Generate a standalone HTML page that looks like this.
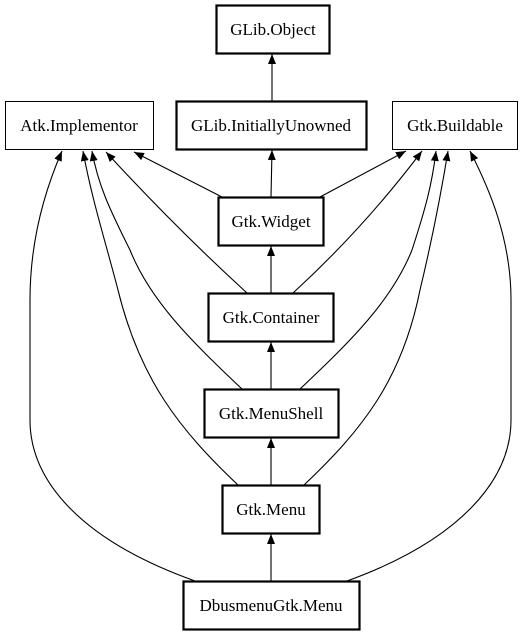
<!DOCTYPE html>
<html><head><style>
html,body{margin:0;padding:0;background:#fff;}
svg{display:block;}
text{font-family:"Liberation Serif",serif;font-size:17px;text-anchor:middle;}
</style></head><body>
<svg width="521" height="635" viewBox="0 0 521 635" xmlns="http://www.w3.org/2000/svg">
<defs>
<marker id="a" markerWidth="10" markerHeight="8" refX="10" refY="4" orient="auto" markerUnits="userSpaceOnUse">
<path d="M0,0 L10,4 L0,8 Z" fill="#000"/>
</marker>
</defs>
<g fill="none" stroke="#000" stroke-width="1.1" marker-end="url(#a)">
<path d="M272,101 L272,54"/>
<path d="M271,197 L272,150"/>
<path d="M271,293 L271,246"/>
<path d="M271,389 L271,342"/>
<path d="M271,485 L271,438"/>
<path d="M271,581 L271,534"/>
<path d="M222,197 L134,152"/>
<path d="M247,293 C200,250 150,200 106,152"/>
<path d="M242,389 C190,340 150,300 130,250 C110,210 98,185 92,151"/>
<path d="M238,485 C180,430 140,380 118,290 C105,240 92,200 83,151"/>
<path d="M195,581 C80,540 30,480 30,420 L30,300 C30,240 45,190 62,151"/>
<path d="M320,197 L406,151"/>
<path d="M293,293 C340,250 385,200 422,151"/>
<path d="M300,389 C352,340 392,300 412,250 C425,210 432,185 436,151"/>
<path d="M304,485 C362,430 402,380 420,290 C432,240 440,200 448,151"/>
<path d="M347,581 C460,540 511,480 511,420 L511,300 C511,240 490,190 470,151"/>
</g>
<g fill="#fff" stroke="#000">
<rect x="216.5" y="5.5" width="113" height="48" stroke-width="2.2"/>
<rect x="5.5" y="101.5" width="148" height="48" stroke-width="1"/>
<rect x="176.5" y="101.5" width="190" height="48" stroke-width="2.2"/>
<rect x="392.5" y="101.5" width="125" height="48" stroke-width="1"/>
<rect x="218.5" y="197.5" width="105" height="48" stroke-width="2.2"/>
<rect x="208.5" y="293.5" width="125" height="48" stroke-width="2.2"/>
<rect x="204.5" y="389.5" width="134" height="48" stroke-width="2.2"/>
<rect x="222.5" y="485.5" width="97" height="48" stroke-width="2.2"/>
<rect x="183.5" y="581.5" width="176" height="48" stroke-width="2.2"/>
</g>
<g fill="#000">
<text x="273" y="35">GLib.Object</text>
<text x="79" y="131">Atk.Implementor</text>
<text x="271" y="131">GLib.InitiallyUnowned</text>
<text x="455" y="131">Gtk.Buildable</text>
<text x="271" y="227">Gtk.Widget</text>
<text x="271" y="323">Gtk.Container</text>
<text x="271" y="419">Gtk.MenuShell</text>
<text x="271" y="515">Gtk.Menu</text>
<text x="271" y="611">DbusmenuGtk.Menu</text>
</g>
</svg>
</body></html>
